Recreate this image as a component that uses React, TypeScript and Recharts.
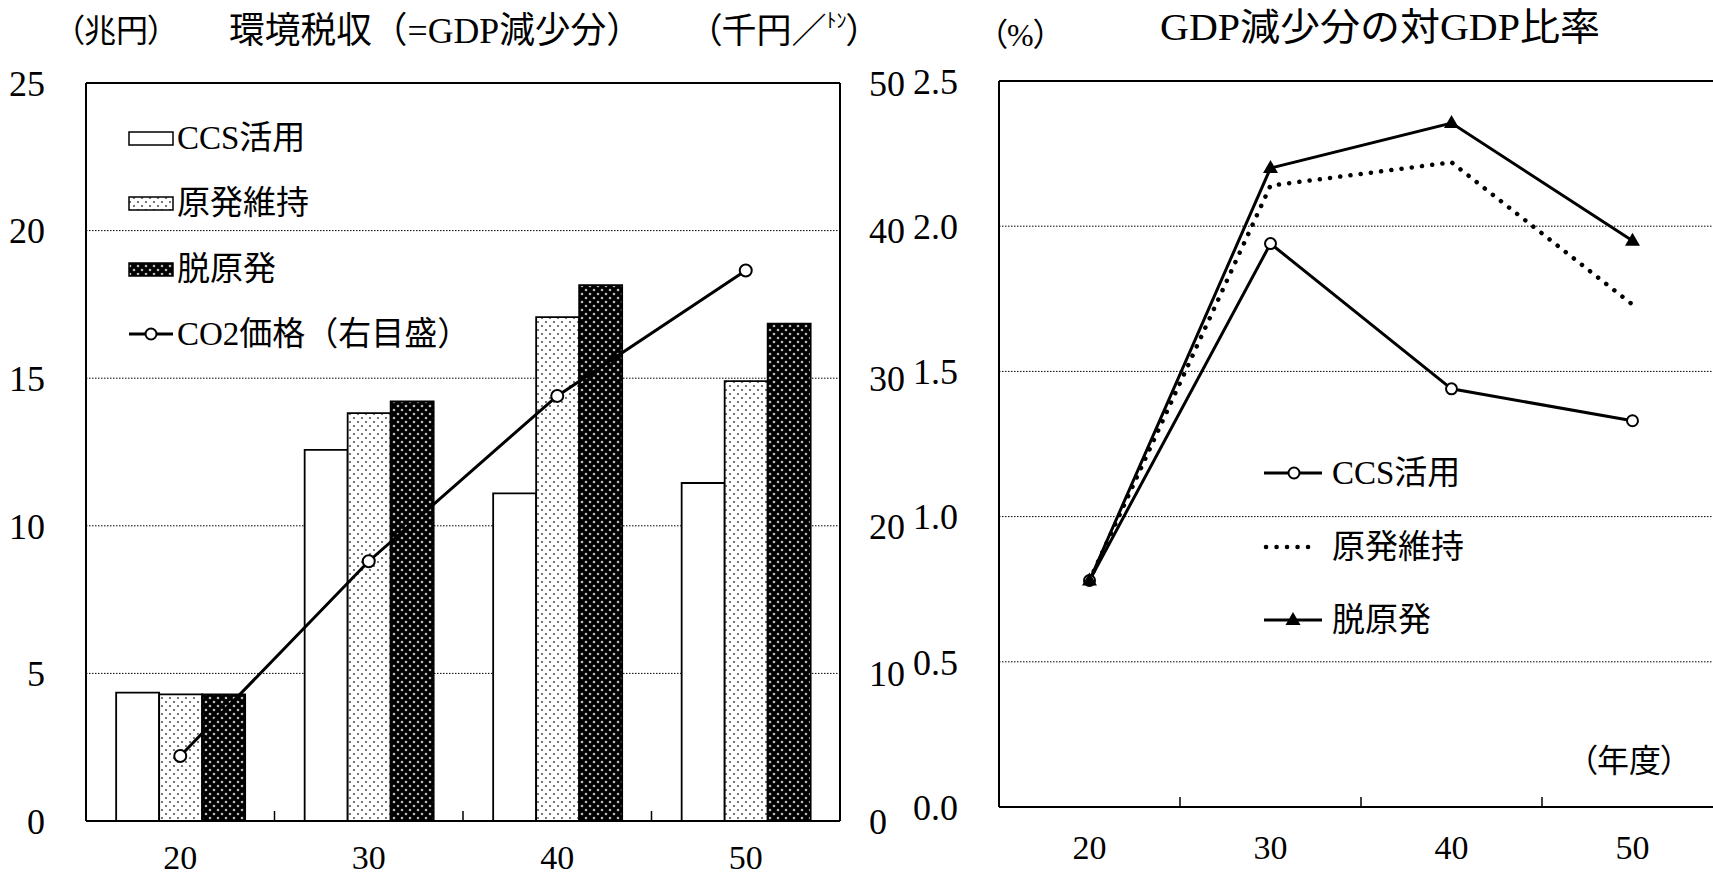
import React from "react";
import {
  ComposedChart,
  LineChart,
  Bar,
  Line,
  XAxis,
  YAxis,
  CartesianGrid,
  ReferenceLine,
} from "recharts";

// 年度
const years = ["20", "30", "40", "50"];

// 環境税収（兆円）
const ccsTax = [4.35, 12.57, 11.1, 11.45];
const nukeKeepTax = [4.29, 13.82, 17.07, 14.9];
const nukeExitTax = [4.29, 14.21, 18.15, 16.85];
// CO2価格（千円／トン、右目盛）
const co2Price = [4.4, 17.6, 28.8, 37.3];

// GDP減少分の対GDP比率（%）
const ccsRatio = [0.78, 1.94, 1.44, 1.33];
const nukeKeepRatio = [0.78, 2.14, 2.22, 1.73];
const nukeExitRatio = [0.78, 2.2, 2.355, 1.95];

const taxTicks = [0, 5, 10, 15, 20, 25];
const priceTicks = [0, 10, 20, 30, 40, 50];
const ratioTicks = [0, 0.5, 1.0, 1.5, 2.0, 2.5];

const SERIF = "'Liberation Serif', 'Noto Sans CJK JP', serif";
const axisText = { fontSize: 36, fill: "#000", fontFamily: SERIF };
const catText = { fontSize: 34, fill: "#000", fontFamily: SERIF };
const frame = { stroke: "#000", strokeWidth: 2 };

// left chart plot box: margin.left + axis width, chart width minus margins and axes
const TAX_LEFT = 26 + 60;
const TAX_WIDTH = 960 - 26 - 60 - 60 - 60;
const TAX_BOTTOM = 876 - 15 - 40;

const taxRows = years.map((y, i) => ({
  year: y,
  ccs: ccsTax[i],
  keep: nukeKeepTax[i],
  exit: nukeExitTax[i],
  co2: co2Price[i],
}));

const ratioRows = years.map((y, i) => ({
  year: y,
  ccs: ccsRatio[i],
  keep: nukeKeepRatio[i],
  exit: nukeExitRatio[i],
}));

function Patterns({ suffix }: { suffix: string }) {
  return (
    <defs>
      <pattern id={`light${suffix}`} width={8} height={8} patternUnits="userSpaceOnUse">
        <rect width={8} height={8} fill="#fff" />
        <circle cx={2} cy={2} r={1.1} fill="#555" />
        <circle cx={6} cy={6} r={1.1} fill="#555" />
      </pattern>
      <pattern id={`dark${suffix}`} width={8} height={8} patternUnits="userSpaceOnUse">
        <rect width={8} height={8} fill="#000" />
        <circle cx={2} cy={2} r={1.3} fill="#bbb" />
        <circle cx={6} cy={6} r={1.3} fill="#bbb" />
      </pattern>
    </defs>
  );
}

function Triangle(props: any) {
  const { cx, cy } = props;
  if (cx == null || cy == null) return null;
  return <path d={`M${cx},${cy - 8} L${cx + 7.5},${cy + 5} L${cx - 7.5},${cy + 5} Z`} fill="#000" />;
}

// category label, optionally with the small inward tick at the right edge of each band
function CatTick(props: any) {
  const { x, y, payload, lblOffset, plotW, edgeTicks } = props;
  const band = plotW / years.length;
  const axisY = y - lblOffset;
  const bx = x + band / 2;
  return (
    <g>
      <text x={x} y={y} dy="0.71em" textAnchor="middle" {...catText}>
        {payload.value}
      </text>
      {edgeTicks ? <line x1={bx} x2={bx} y1={axisY} y2={axisY - 10} stroke="#000" strokeWidth={1.5} /> : null}
    </g>
  );
}

function TaxChart() {
  return (
    <ComposedChart
      width={960}
      height={876}
      data={taxRows}
      margin={{ top: 83, right: 60, bottom: 15, left: 26 }}
      barGap={0}
      barCategoryGap="16%"
    >
      <Patterns suffix="A" />
      <CartesianGrid xAxisId="cat" yAxisId="tax" vertical={false} stroke="#000" strokeDasharray="1.5 1.5" />
      <YAxis
        yAxisId="tax"
        width={60}
        domain={[0, 25]}
        ticks={taxTicks}
        tickLine={false}
        tickSize={0}
        tickMargin={41}
        axisLine={frame}
        tick={axisText}
      />
      <YAxis
        yAxisId="price"
        orientation="right"
        width={60}
        domain={[0, 50]}
        ticks={priceTicks}
        tickLine={false}
        tickSize={0}
        tickMargin={29}
        axisLine={frame}
        tick={axisText}
      />
      <ReferenceLine xAxisId="cat" yAxisId="tax" y={25} stroke="#000" strokeWidth={2} />
      <Bar xAxisId="cat" yAxisId="tax" dataKey="ccs" fill="#fff" stroke="#000" strokeWidth={1.8} isAnimationActive={false} />
      <Bar xAxisId="cat" yAxisId="tax" dataKey="keep" fill="url(#lightA)" stroke="#000" strokeWidth={1.8} isAnimationActive={false} />
      <Bar xAxisId="cat" yAxisId="tax" dataKey="exit" fill="url(#darkA)" stroke="#000" strokeWidth={1.8} isAnimationActive={false} />
      <Line
        xAxisId="cat"
        yAxisId="price"
        type="linear"
        dataKey="co2"
        stroke="#000"
        strokeWidth={3}
        dot={{ r: 6, fill: "#fff", stroke: "#000", strokeWidth: 2 }}
        isAnimationActive={false}
      />
      <XAxis
        xAxisId="cat"
        dataKey="year"
        scale="band"
        height={40}
        interval={0}
        tickLine={false}
        tickSize={0}
        tickMargin={24}
        axisLine={frame}
        tick={<CatTick lblOffset={24} plotW={TAX_WIDTH} />}
      />
    </ComposedChart>
  );
}

function RatioChart() {
  return (
    <LineChart width={900} height={876} data={ratioRows} margin={{ top: 81, right: 57, bottom: 29, left: 59 }}>
      <CartesianGrid xAxisId="cat" vertical={false} stroke="#000" strokeDasharray="1.5 1.5" />
      <XAxis
        xAxisId="cat"
        dataKey="year"
        scale="band"
        height={40}
        interval={0}
        tickLine={false}
        tickSize={0}
        tickMargin={28}
        axisLine={frame}
        tick={<CatTick lblOffset={28} plotW={724} edgeTicks />}
      />
      <YAxis
        width={60}
        domain={[0, 2.5]}
        ticks={ratioTicks}
        tickFormatter={(v: number) => v.toFixed(1)}
        tickLine={false}
        tickSize={0}
        tickMargin={41}
        axisLine={frame}
        tick={axisText}
      />
      <ReferenceLine xAxisId="cat" y={2.5} stroke="#000" strokeWidth={2} />
      <Line
        xAxisId="cat"
        type="linear"
        dataKey="keep"
        stroke="#000"
        strokeWidth={4.5}
        strokeDasharray="0.1 10.2"
        strokeLinecap="round"
        dot={false}
        isAnimationActive={false}
      />
      <Line
        xAxisId="cat"
        type="linear"
        dataKey="ccs"
        stroke="#000"
        strokeWidth={3}
        dot={{ r: 5.5, fill: "#fff", stroke: "#000", strokeWidth: 2 }}
        isAnimationActive={false}
      />
      <Line
        xAxisId="cat"
        type="linear"
        dataKey="exit"
        stroke="#000"
        strokeWidth={3}
        dot={<Triangle />}
        isAnimationActive={false}
      />
    </LineChart>
  );
}

// titles, unit labels, both legends, and the band-edge ticks of the left chart
function Overlay() {
  const palt = { fontFeatureSettings: "'palt'" } as React.CSSProperties;
  const txt = { fontFamily: SERIF, fill: "#000", dominantBaseline: "central" } as any;
  const band = TAX_WIDTH / years.length;
  return (
    <svg width={1713} height={876} style={{ position: "absolute", left: 0, top: 0 }}>
      <Patterns suffix="B" />
      {years.slice(1).map((y, i) => {
        const bx = TAX_LEFT + band * (i + 1);
        return <line key={y} x1={bx} x2={bx} y1={TAX_BOTTOM} y2={TAX_BOTTOM - 10} stroke="#000" strokeWidth={1.5} />;
      })}
      <text x={68} y={31} fontSize={32} style={palt} {...txt}>（兆円）</text>
      <text x={229} y={31} fontSize={36} textLength={413} lengthAdjust="spacingAndGlyphs" {...txt}>
        環境税収（=GDP減少分）
      </text>
      <text x={704} y={31} fontSize={35} style={palt} {...txt}>
        （千円／<tspan fontSize={20} dy={-10}>ﾄﾝ</tspan>
        <tspan dy={10}>）</tspan>
      </text>
      <text x={991} y={35} fontSize={32} style={palt} {...txt}>（%）</text>
      <text x={1160} y={27} fontSize={38} textLength={440} lengthAdjust="spacingAndGlyphs" {...txt}>
        GDP減少分の対GDP比率
      </text>
      <text x={1581} y={761} fontSize={32} style={palt} {...txt}>（年度）</text>

      {/* left legend */}
      <rect x={129} y={132} width={44} height={13} fill="#fff" stroke="#000" strokeWidth={1.5} />
      <text x={177} y={138} fontSize={33} {...txt}>CCS活用</text>
      <rect x={129} y={197} width={44} height={13} fill="url(#lightB)" stroke="#000" strokeWidth={1.5} />
      <text x={177} y={203} fontSize={33} {...txt}>原発維持</text>
      <rect x={129} y={263} width={44} height={13} fill="url(#darkB)" stroke="#000" strokeWidth={1.5} />
      <text x={177} y={269} fontSize={33} {...txt}>脱原発</text>
      <line x1={129} y1={334} x2={173} y2={334} stroke="#000" strokeWidth={3} />
      <circle cx={151} cy={334} r={5.5} fill="#fff" stroke="#000" strokeWidth={2} />
      <text x={177} y={334} fontSize={33} {...txt}>CO2価格（右目盛）</text>

      {/* right legend */}
      <line x1={1264} y1={473} x2={1322} y2={473} stroke="#000" strokeWidth={3} />
      <circle cx={1294} cy={473} r={5.5} fill="#fff" stroke="#000" strokeWidth={2} />
      <text x={1332} y={473} fontSize={33} {...txt}>CCS活用</text>
      <line x1={1266} y1={547} x2={1318} y2={547} stroke="#000" strokeWidth={4.5} strokeDasharray="0.1 10.4" strokeLinecap="round" />
      <text x={1332} y={547} fontSize={33} {...txt}>原発維持</text>
      <line x1={1264} y1={620} x2={1322} y2={620} stroke="#000" strokeWidth={3} />
      <path d="M1293,612 L1300.5,625 L1285.5,625 Z" fill="#000" />
      <text x={1332} y={620} fontSize={33} {...txt}>脱原発</text>
    </svg>
  );
}

export default function App() {
  return (
    <div
      style={{
        position: "fixed",
        left: 0,
        top: 0,
        width: 1713,
        height: 876,
        overflow: "hidden",
        background: "#fff",
      }}
    >
      <div style={{ position: "absolute", left: 0, top: 0 }}>
        <TaxChart />
      </div>
      <div style={{ position: "absolute", left: 880, top: 0 }}>
        <RatioChart />
      </div>
      <Overlay />
    </div>
  );
}
